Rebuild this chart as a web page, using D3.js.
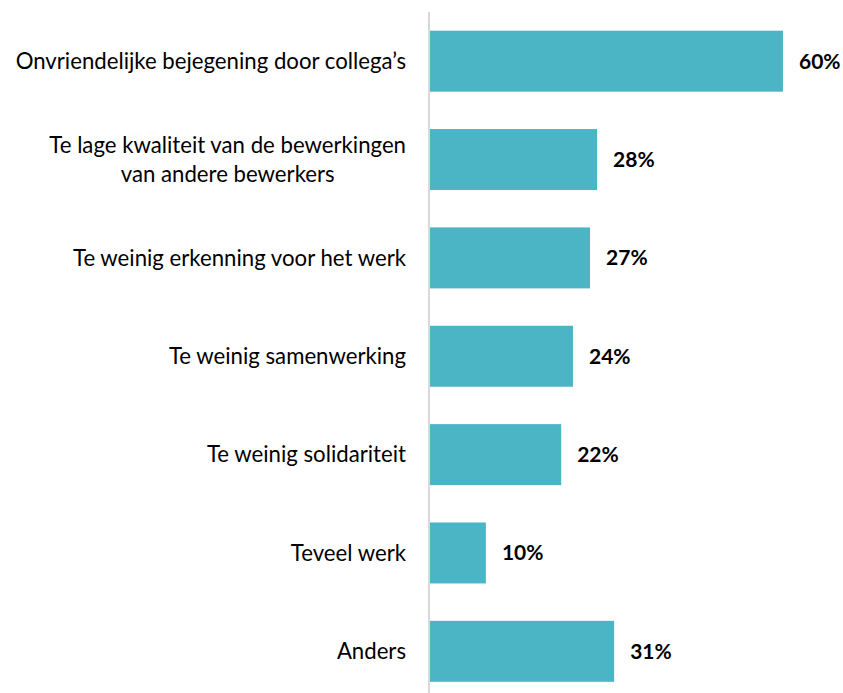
<!DOCTYPE html>
<html>
<head>
<meta charset="utf-8">
<script src="https://cdn.jsdelivr.net/npm/d3@7"></script>
<style>
  html, body { margin: 0; padding: 0; background: #fff; }
  svg { display: block; }
</style>
</head>
<body>
<svg id="chart" width="843" height="693"></svg>
<script>
const categories = [
  ["Onvriendelijke bejegening door collega’s"],
  ["Te lage kwaliteit van de bewerkingen", "van andere bewerkers"],
  ["Te weinig erkenning voor het werk"],
  ["Te weinig samenwerking"],
  ["Te weinig solidariteit"],
  ["Teveel werk"],
  ["Anders"]
];
const values = [60.0, 28.4, 27.2, 24.3, 22.3, 9.5, 31.3];
const valueLabels = ["60%", "28%", "27%", "24%", "22%", "10%", "31%"];

const W = 843, H = 693;
const svg = d3.select("#chart");
const x0 = 430;
const x = d3.scaleLinear().domain([0, 60]).range([x0, 783]);
const y = d3.scaleBand().domain(d3.range(categories.length))
  .range([12, 700.5]).paddingInner(0.38).paddingOuter(0.19);

const font = "Lato, 'Open Sans', sans-serif";

svg.selectAll("rect.bar").data(values).join("rect")
  .attr("class", "bar")
  .attr("x", x(0))
  .attr("y", (d, i) => y(i))
  .attr("width", d => x(d) - x(0))
  .attr("height", y.bandwidth())
  .attr("fill", "#4bb5c6");

// axis line
svg.append("line")
  .attr("x1", 429).attr("x2", 429)
  .attr("y1", 12).attr("y2", H)
  .attr("stroke", "#d9d9d9").attr("stroke-width", 2);

// category labels
const lab = svg.selectAll("text.cat").data(categories).join("text")
  .attr("class", "cat")
  .attr("font-family", font)
  .attr("font-size", 22.2)
  .attr("fill", "#000");
lab.each(function(lines, i) {
  const t = d3.select(this);
  const cy = y(i) + y.bandwidth() / 2;
  const lh = 29;
  lines.forEach((ln, j) => {
    t.append("tspan")
      .attr("x", 406)
      .attr("text-anchor", lines.length > 1 ? "middle" : "end")
      .attr("y", cy + (j - (lines.length - 1) / 2) * lh)
      .attr("dy", "0.35em")
      .text(ln);
  });
});
lab.filter(d => d.length > 1).each(function() {
  const t = d3.select(this);
  const spans = t.selectAll("tspan").nodes();
  const maxW = d3.max(spans, s => s.getComputedTextLength());
  spans.forEach(s => d3.select(s).attr("x", 406 - maxW / 2));
});

// value labels
svg.selectAll("text.val").data(values).join("text")
  .attr("class", "val")
  .attr("x", d => x(d) + 16)
  .attr("y", (d, i) => y(i) + y.bandwidth() / 2)
  .attr("dy", "0.35em")
  .attr("font-family", font)
  .attr("font-weight", "bold")
  .attr("font-size", 21)
  .attr("fill", "#000")
  .text((d, i) => valueLabels[i]);
</script>
</body>
</html>
